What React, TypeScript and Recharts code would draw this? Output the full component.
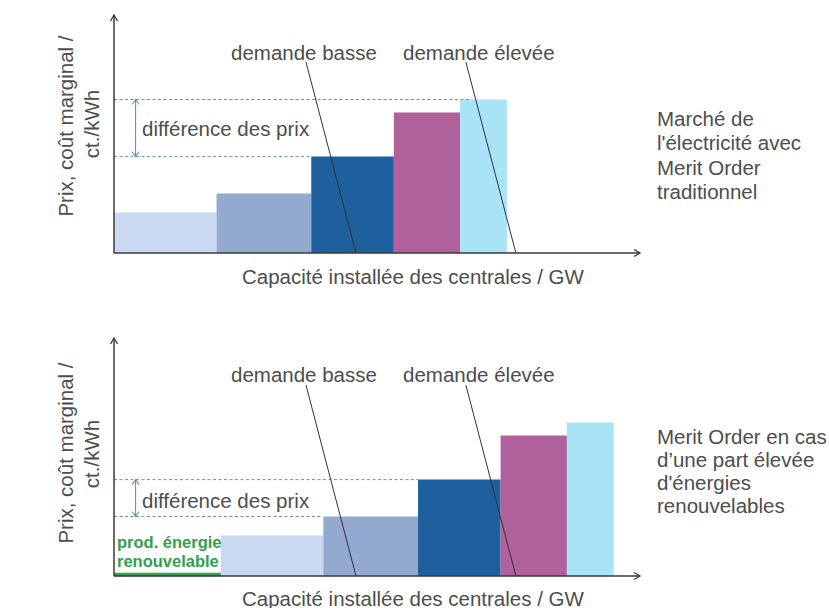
import React from 'react';
import { ComposedChart, Area, XAxis, YAxis, ReferenceLine, ReferenceDot } from 'recharts';

// ---- data ----
const plantTypes = ['Centrale 1', 'Centrale 2', 'Centrale 3', 'Centrale 4', 'Centrale 5'];
const plantCapacity = [19.5, 18, 15.7, 12.6, 8.9]; // GW (schematic)
const marginalCost = [17, 25, 40.5, 59, 64.5]; // ct./kWh (schematic)
const plantColors = ['#cad9f1', '#94a9d0', '#1e5f9d', '#b0609b', '#a9e3f6'];
const renewableCapacity = [0, 20.3]; // top chart: none, bottom chart: 20.3
const lowDemand = [{ x: 36.5, y: 80.2 }, { x: 46, y: 0 }];
const highDemand = [{ x: 66.9, y: 80.2 }, { x: 76.4, y: 0 }];
const priceLevelsTop = [64.5, 40.5];
const priceLevelEndsTop = [68, 37.7];
const priceLevelsBottom = [40.5, 25];
const priceLevelEndsBottom = [57.8, 39.7];
const diffArrowX = 4.1;

const TEXT = '#4d4d4d';
const FONT = '"Liberation Sans", Arial, sans-serif';
const AXIS = '#3a3a3a';
const DASH = '#6a9698';

function buildRows(start: number) {
  const rows: { x: number; idx: number }[] = [];
  let x = start;
  rows.push({ x, idx: 0 });
  plantCapacity.forEach((c, i) => {
    x += c;
    rows.push({ x: Math.round(x * 100) / 100, idx: i + 1 });
  });
  return rows;
}

const chevronUp = (p: any) => (
  <path d={`M${p.cx - 3.5},${p.cy + 5} L${p.cx},${p.cy} L${p.cx + 3.5},${p.cy + 5}`} fill="none" stroke={p.stroke} strokeWidth={1.1} />
);
const chevronDown = (p: any) => (
  <path d={`M${p.cx - 3.5},${p.cy - 5} L${p.cx},${p.cy} L${p.cx + 3.5},${p.cy - 5}`} fill="none" stroke={p.stroke} strokeWidth={1.1} />
);
const chevronRight = (p: any) => (
  <path d={`M${p.cx - 6},${p.cy - 3.5} L${p.cx},${p.cy} L${p.cx - 6},${p.cy + 3.5}`} fill="none" stroke={AXIS} strokeWidth={1.3} />
);
const chevronAxisUp = (p: any) => (
  <path d={`M${p.cx - 3.5},${p.cy + 6} L${p.cx},${p.cy} L${p.cx + 3.5},${p.cy + 6}`} fill="none" stroke={AXIS} strokeWidth={1.3} />
);

function MeritChart({ top, height, marginTop, marginBottom, renew, levels, levelEnds }: any) {
  const rows = buildRows(renew);
  return (
    <div style={{ position: 'absolute', left: 0, top, width: 829, height }}>
      <ComposedChart
        width={829}
        height={height}
        data={rows}
        margin={{ top: marginTop, right: 189, bottom: marginBottom, left: 114 }}
      >
        <XAxis dataKey="x" type="number" domain={[0, 100]} hide allowDataOverflow />
        <YAxis type="number" domain={[0, 100]} hide allowDataOverflow />
        {plantTypes.map((name, i) => (
          <Area
            key={name}
            name={name}
            type="linear"
            dataKey={(d: any) => (d.idx === i || d.idx === i + 1 ? marginalCost[i] : null)}
            fill={plantColors[i]}
            fillOpacity={1}
            stroke="none"
            dot={false}
            activeDot={false}
            isAnimationActive={false}
          />
        ))}
        {levels.map((lv: number, i: number) => (
          <ReferenceLine
            key={'lv' + i}
            segment={[{ x: 0, y: lv }, { x: levelEnds[i], y: lv }]}
            stroke={DASH}
            strokeWidth={1}
            strokeDasharray="3 2.5"
          />
        ))}
        <ReferenceLine segment={[{ x: diffArrowX, y: levels[1] }, { x: diffArrowX, y: levels[0] }]} stroke={DASH} strokeWidth={1.1} />
        <ReferenceDot x={diffArrowX} y={levels[0]} r={0} stroke={DASH} shape={chevronUp} />
        <ReferenceDot x={diffArrowX} y={levels[1]} r={0} stroke={DASH} shape={chevronDown} />
        {renew > 0 && (
          <ReferenceLine segment={[{ x: 0, y: 0.6 }, { x: renew, y: 0.6 }]} stroke="#33a04b" strokeWidth={3.5} />
        )}
        <ReferenceLine segment={lowDemand} stroke="#2e3338" strokeWidth={1} />
        <ReferenceLine segment={highDemand} stroke="#2e3338" strokeWidth={1} />
        <ReferenceLine y={0} stroke={AXIS} strokeWidth={1.5} />
        <ReferenceLine x={0} stroke={AXIS} strokeWidth={1.5} />
        <ReferenceDot x={100} y={0} r={0} shape={chevronRight} ifOverflow="visible" />
        <ReferenceDot x={0} y={100} r={0} shape={chevronAxisUp} ifOverflow="visible" />
      </ComposedChart>
    </div>
  );
}

const txt = { fontFamily: FONT, fontSize: 20.5, fill: TEXT } as const;
const green = { fontFamily: FONT, fontSize: 16.5, fontWeight: 'bold', fill: '#33a04b' } as const;

export default function App() {
  return (
    <div style={{ position: 'absolute', left: 0, top: 0, width: 829, height: 608, background: '#fff', overflow: 'hidden' }}>
      <MeritChart top={0} height={300} marginTop={15} marginBottom={47} renew={renewableCapacity[0]} levels={priceLevelsTop} levelEnds={priceLevelEndsTop} />
      <MeritChart top={300} height={308} marginTop={38} marginBottom={32} renew={renewableCapacity[1]} levels={priceLevelsBottom} levelEnds={priceLevelEndsBottom} />
      <svg width={829} height={608} style={{ position: 'absolute', left: 0, top: 0, pointerEvents: 'none' }}>
        {/* top chart texts */}
        <text {...txt} x={65} y={126} transform="rotate(-90 65 126)" textAnchor="middle" dominantBaseline="central">Prix, coût marginal /</text>
        <text {...txt} x={91.5} y={124} transform="rotate(-90 91.5 124)" textAnchor="middle" dominantBaseline="central">ct./kWh</text>
        <text {...txt} x={242} y={276} dominantBaseline="central">Capacité installée des centrales / GW</text>
        <text {...txt} x={231} y={52} dominantBaseline="central">demande basse</text>
        <text {...txt} x={403} y={52} dominantBaseline="central">demande élevée</text>
        <text {...txt} x={142} y={128} dominantBaseline="central">différence des prix</text>
        <text {...txt} x={657} y={118} dominantBaseline="central">Marché de</text>
        <text {...txt} x={657} y={142.5} dominantBaseline="central">l'électricité avec</text>
        <text {...txt} x={657} y={167} dominantBaseline="central">Merit Order</text>
        <text {...txt} x={657} y={191.5} dominantBaseline="central">traditionnel</text>
        {/* bottom chart texts */}
        <text {...txt} x={65} y={453} transform="rotate(-90 65 453)" textAnchor="middle" dominantBaseline="central">Prix, coût marginal /</text>
        <text {...txt} x={91.5} y={454} transform="rotate(-90 91.5 454)" textAnchor="middle" dominantBaseline="central">ct./kWh</text>
        <text {...txt} x={242} y={598} dominantBaseline="central">Capacité installée des centrales / GW</text>
        <text {...txt} x={231} y={374} dominantBaseline="central">demande basse</text>
        <text {...txt} x={403} y={374} dominantBaseline="central">demande élevée</text>
        <text {...txt} x={142} y={500} dominantBaseline="central">différence des prix</text>
        <text {...green} x={117} y={542} dominantBaseline="central">prod. énergie</text>
        <text {...green} x={117} y={560.5} dominantBaseline="central">renouvelable</text>
        <text {...txt} x={657} y={436} dominantBaseline="central">Merit Order en cas</text>
        <text {...txt} x={657} y={459} dominantBaseline="central">d’une part élevée</text>
        <text {...txt} x={657} y={482} dominantBaseline="central">d'énergies</text>
        <text {...txt} x={657} y={505} dominantBaseline="central">renouvelables</text>
      </svg>
    </div>
  );
}
